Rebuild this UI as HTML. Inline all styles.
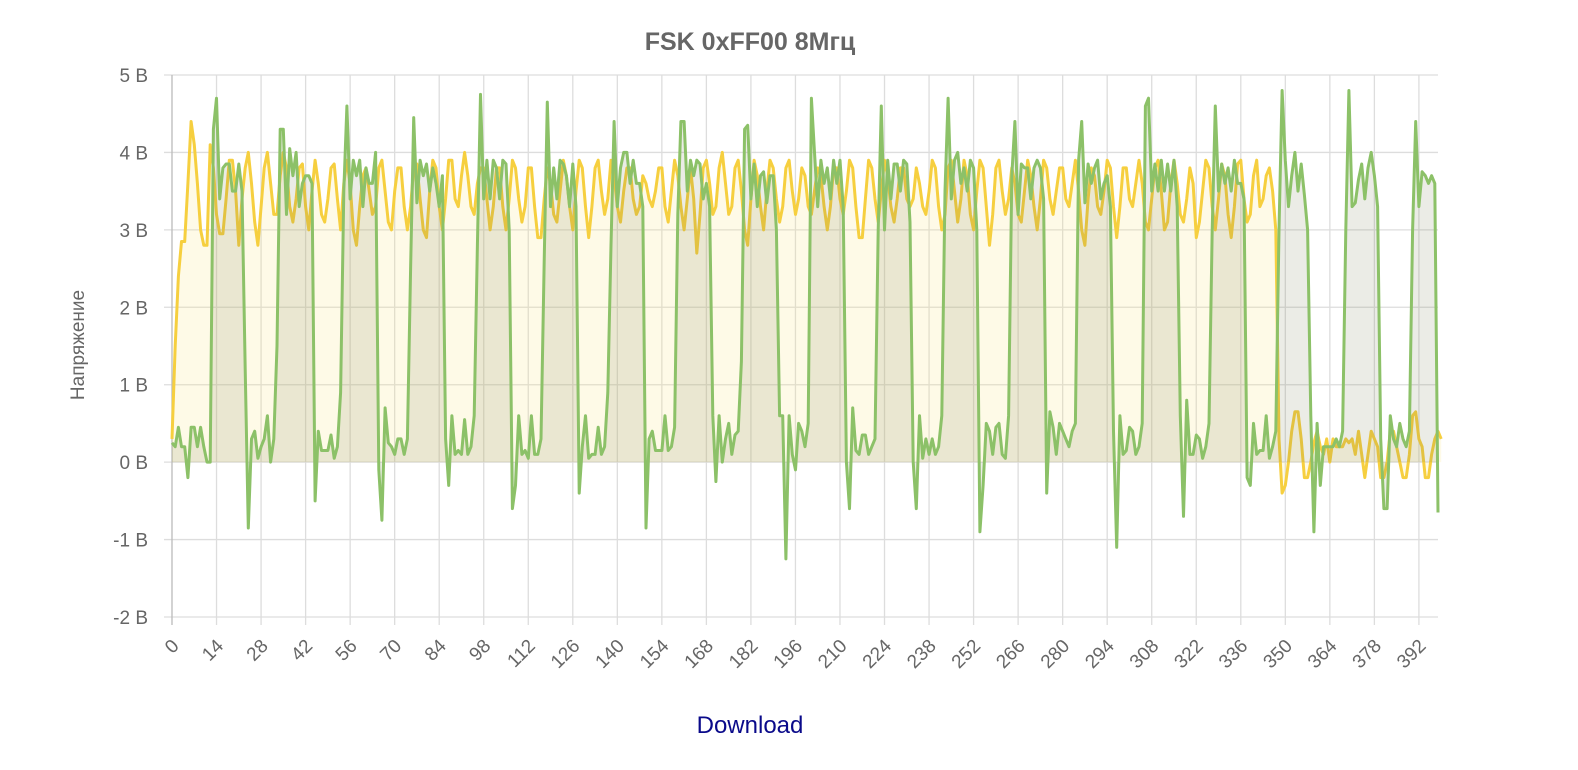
<!DOCTYPE html>
<html><head><meta charset="utf-8">
<style>
body{margin:0;background:#fff;width:1578px;height:770px;overflow:hidden;font-family:"Liberation Sans",sans-serif;}
svg{display:block}
</style></head>
<body>
<svg id="chart" width="1578" height="770" xmlns="http://www.w3.org/2000/svg">
<text x="750" y="50" text-anchor="middle" font-size="25" font-weight="bold" fill="#666">FSK 0xFF00 8Мгц</text>
<text transform="translate(84,345) rotate(-90)" text-anchor="middle" font-size="19" fill="#666">Напряжение</text>
<text x="750" y="733" text-anchor="middle" font-size="24" fill="#0a0a8a">Download</text>
<g id="grid"></g><g id="series"></g><g id="labels"></g>
</svg>
<script>
const yTicks=[5,4,3,2,1,0,-1,-2];
const yTickLabels=["5 В","4 В","3 В","2 В","1 В","0 В","-1 В","-2 В"];
const xTicks=[0,14,28,42,56,70,84,98,112,126,140,154,168,182,196,210,224,238,252,266,280,294,308,322,336,350,364,378,392];
const green=[0.25,0.2,0.45,0.2,0.2,-0.2,0.45,0.45,0.2,0.45,0.2,0,0,
4.3,4.7,3.4,3.8,3.85,3.85,3.5,3.5,3.85,3.5,1.2,-0.85,0.3,0.4,0.05,0.2,0.3,0.6,0,0.3,1.5,
4.3,4.3,3.2,4.05,3.7,4.0,3.3,3.6,3.7,3.7,3.6,-0.5,0.4,0.15,0.15,0.15,0.35,0.05,0.2,0.9,3.5,
4.6,3.4,3.9,3.7,3.9,3.3,3.8,3.6,3.6,4.0,-0.1,-0.75,0.7,0.25,0.2,0.1,0.3,0.3,0.1,0.3,2.5,
4.45,3.35,3.9,3.7,3.85,3.5,3.8,3.6,3.3,3.7,0.3,-0.3,0.6,0.1,0.15,0.1,0.55,0.1,0.2,0.6,2.8,
4.75,3.4,3.9,3.4,3.9,3.8,3.4,3.9,3.85,3.0,-0.6,-0.3,0.6,0.1,0.15,0.05,0.6,0.1,0.1,0.3,2.6,
4.65,3.3,3.8,3.4,3.9,3.85,3.7,3.3,3.85,3.3,-0.4,0.2,0.6,0.05,0.1,0.1,0.45,0.1,0.2,0.9,2.8,
4.4,3.3,3.8,4.0,4.0,3.6,3.9,3.6,3.6,3.3,-0.85,0.3,0.4,0.15,0.15,0.15,0.6,0.15,0.2,0.45,3.2,
4.4,4.4,3.5,3.9,3.7,3.9,3.85,3.4,3.6,3.3,0.6,-0.25,0.6,0.0,0.3,0.5,0.1,0.35,0.4,1.3,4.3,
4.35,3.4,3.85,3.3,3.7,3.75,3.35,3.7,3.7,3.0,0.6,0.6,-1.25,0.6,0.1,-0.1,0.5,0.4,0.2,0.5,4.7,
4.0,3.3,3.9,3.6,3.8,3.4,3.9,3.6,3.9,3.3,0.0,-0.6,0.7,0.15,0.1,0.35,0.35,0.1,0.2,0.3,3.0,
4.6,3.0,3.9,3.4,3.85,3.85,3.5,3.9,3.85,3.1,0.0,-0.6,0.6,0.05,0.3,0.1,0.3,0.1,0.2,0.6,3.5,
4.7,3.4,3.9,4.0,3.6,3.8,3.5,3.9,3.8,3.0,-0.9,-0.3,0.5,0.4,0.1,0.45,0.5,0.1,0.05,0.6,3.7,
4.4,3.2,3.85,3.8,3.8,3.4,3.8,3.9,3.8,3.4,-0.4,0.65,0.45,0.1,0.5,0.4,0.3,0.2,0.4,0.5,3.9,
4.4,3.35,3.85,3.6,3.8,3.9,3.4,3.6,3.7,3.3,0.4,-1.1,0.6,0.1,0.15,0.45,0.4,0.1,0.2,0.5,4.6,
4.7,3.5,3.85,3.5,3.9,3.5,3.85,3.5,3.9,3.3,0.6,-0.7,0.8,0.1,0.1,0.35,0.3,0.05,0.2,0.5,3.0,
4.6,3.5,3.85,3.6,3.8,3.5,3.9,3.6,3.6,3.4,-0.2,-0.3,0.5,0.1,0.15,0.15,0.6,0.05,0.2,0.4,3.0,
4.8,3.9,3.3,3.7,4.0,3.5,3.85,3.45,3.0,0.6,-0.9,0.5,-0.3,0.2,0.2,0.2,0.2,0.3,0.2,0.4,3.0,
4.8,3.3,3.35,3.65,3.85,3.4,3.8,4.0,3.7,3.3,0.3,-0.6,-0.6,0.6,0.3,0.2,0.5,0.3,0.2,0.4,3.0,
4.4,3.3,3.75,3.7,3.6,3.7,3.6,-0.65];
const yellow=[0.3,1.5,2.4,2.85,2.85,3.6,4.4,4.1,3.6,3.0,2.8,2.8,
4.1,3.8,3.2,2.95,2.95,3.4,3.9,3.9,3.5,2.8,3.4,3.8,4.0,3.6,3.1,2.8,3.3,3.8,4.0,3.6,3.2,3.2,3.7,4.0,
3.8,3.3,3.1,3.4,3.8,3.85,3.3,3.0,3.5,3.9,3.6,3.2,3.1,3.4,3.8,3.85,3.4,3.0,3.6,3.9,3.6,3.0,2.8,3.3,
3.7,3.8,3.5,3.2,3.3,3.8,3.9,3.5,3.1,3.0,3.5,3.8,3.8,3.3,3.0,3.3,3.8,3.85,3.4,3.0,2.9,3.5,3.9,3.8,
3.3,3.0,3.4,3.9,3.9,3.4,3.3,3.7,4.0,3.7,3.3,3.2,3.6,3.8,3.8,3.4,3.0,3.3,3.8,3.8,3.3,3.0,3.4,3.9,
3.8,3.4,3.1,3.3,3.8,3.8,3.3,2.9,2.9,3.4,3.8,3.6,3.2,3.1,3.5,3.9,3.7,3.3,3.0,3.5,3.9,3.8,3.3,2.9,
3.3,3.8,3.9,3.5,3.2,3.4,3.9,3.7,3.3,3.1,3.5,3.8,3.8,3.4,3.2,3.3,3.7,3.6,3.4,3.3,3.5,3.8,3.8,3.3,
3.1,3.5,3.9,3.7,3.3,3.0,3.4,3.8,3.4,2.7,3.2,3.8,3.9,3.6,3.2,3.3,3.8,4.0,3.6,3.2,3.3,3.8,3.9,3.5,
3.0,2.8,3.4,3.9,3.7,3.3,3.0,3.5,3.9,3.8,3.4,3.1,3.3,3.8,3.9,3.5,3.2,3.4,3.8,3.7,3.3,3.2,3.5,3.8,
3.7,3.3,3.0,3.3,3.8,3.8,3.4,3.2,3.5,3.9,3.8,3.3,2.9,2.9,3.4,3.9,3.8,3.4,3.1,3.5,3.9,3.7,3.3,3.1,
3.4,3.8,3.8,3.4,3.3,3.4,3.8,3.6,3.3,3.2,3.5,3.9,3.8,3.3,3.0,3.2,3.8,3.9,3.5,3.1,3.4,3.9,3.7,3.2,
3.0,3.5,3.9,3.8,3.3,2.8,3.2,3.8,3.9,3.5,3.2,3.4,3.8,3.6,3.2,3.1,3.5,3.9,3.7,3.3,3.0,3.4,3.9,3.8,
3.4,3.2,3.5,3.8,3.8,3.4,3.3,3.6,3.9,3.5,3.0,2.8,3.4,3.8,3.7,3.3,3.2,3.5,3.9,3.8,3.3,2.9,3.3,3.8,
3.8,3.4,3.3,3.6,3.9,3.6,3.1,3.0,3.4,3.8,3.9,3.5,3.0,3.1,3.6,3.9,3.6,3.2,3.1,3.4,3.8,3.6,2.9,3.1,
3.5,3.9,3.8,3.3,3.0,3.4,3.85,3.7,3.2,2.9,3.3,3.85,3.9,3.4,3.1,3.2,3.7,3.9,
3.3,3.4,3.7,3.8,3.5,
3.0,0.3,-0.4,-0.3,0.0,0.4,0.65,0.65,0.3,-0.2,-0.2,0.0,0.25,0.4,0.2,0.1,0.3,0.0,0.3,0.2,0.2,0.2,0.3,
0.25,0.3,0.1,0.4,0.1,-0.2,0.1,0.4,0.3,0.2,-0.2,-0.2,0.0,0.4,0.4,0.2,0.0,-0.2,-0.2,0.1,0.6,0.65,0.3,
0.2,-0.2,-0.2,0.1,0.3,0.4,0.3];

const X0=172,X1=1438,Y_TOP=75,Y_BOT=617,YMAX=5,YMIN=-2,N=398;
const xs=i=>X0+i*(X1-X0)/N;
const ys=v=>Y_TOP+(YMAX-v)*(Y_BOT-Y_TOP)/(YMAX-YMIN);
const NS="http://www.w3.org/2000/svg";
const grid=document.getElementById('grid'),series=document.getElementById('series'),labels=document.getElementById('labels');
function mk(tag,attrs,parent){const e=document.createElementNS(NS,tag);for(const k in attrs)e.setAttribute(k,attrs[k]);parent.appendChild(e);return e;}

yTicks.forEach((t,i)=>{
  const l=mk('line',{x1:X0-8,x2:X1,y1:ys(t),y2:ys(t),stroke:'#ddd','stroke-width':1.3},grid);
  
  
  const tx=mk('text',{x:148,y:ys(t)+7,'text-anchor':'end','font-size':19,fill:'#666'},labels);
  tx.textContent=yTickLabels[i];
  
  
});
xTicks.forEach(t=>{
  const x=xs(t);
  const l=mk('line',{x1:x,x2:x,y1:Y_TOP,y2:Y_BOT+8,stroke:t===0?'#bbb':'#ddd','stroke-width':1.3},grid);
  
  
  const tx=mk('text',{transform:`translate(${x+8},${Y_BOT+30}) rotate(-45)`,'text-anchor':'end','font-size':19,fill:'#666'},labels);
  tx.textContent=String(t);
  
  
});
function draw(data,line,fill,name){
  const n=data.length-1;
  let d=data.map((v,i)=>(i?'L':'M')+xs(i).toFixed(1)+','+ys(v).toFixed(1)).join('');
  const a=mk('path',{d:d+`L${xs(n)},${ys(0)}L${xs(0)},${ys(0)}Z`,fill:fill,stroke:'none'},series);
  
  
  const p=mk('path',{d:d,fill:'none',stroke:line,'stroke-width':3,'stroke-linejoin':'round'},series);
  
  
}
draw(yellow,'#f6cf3f','rgba(250,225,120,0.18)','yellow-series');
draw(green,'#8cc168','rgba(110,120,80,0.14)','green-series');
</script>
</body></html>
